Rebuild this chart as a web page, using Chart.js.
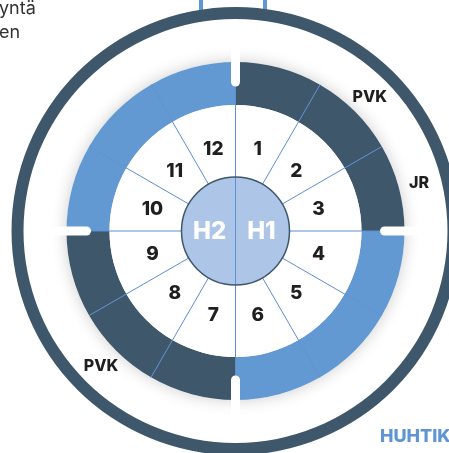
<!DOCTYPE html>
<html>
<head>
<meta charset="utf-8">
<script src="https://cdn.jsdelivr.net/npm/chart.js@4.4.0/dist/chart.umd.min.js"></script>
<style>
  body { margin: 0; width: 449px; height: 453px; overflow: hidden; background: #fff; position: relative; font-family: Inter, "Noto Sans", sans-serif; }
  #bracket { position: absolute; left: 199px; top: -4px; width: 60px; height: 18px; border-left: 4px solid #5f97d3; border-right: 4px solid #5f97d3; }
  #wheel { position: absolute; left: 0; top: 0; }
  #intro { position: absolute; left: -1px; top: -4px; font-size: 18px; line-height: 24px; color: #333; }
  #month { position: absolute; left: 380px; top: 425px; font-size: 18px; font-weight: 800; color: #5f95d3; white-space: nowrap; }
</style>
</head>
<body>
<div id="bracket"></div>
<canvas id="wheel" width="471" height="462"></canvas>
<div id="intro">yntä<br>en</div>
<div id="month">HUHTIK</div>
<script>
// wheel data
const months = ["1", "2", "3", "4", "5", "6", "7", "8", "9", "10", "11", "12"];
const monthValues = [1, 1, 1, 1, 1, 1, 1, 1, 1, 1, 1, 1];
const monthPhase = ["dark", "dark", "dark", "light", "light", "light", "dark", "dark", "dark", "light", "light", "light"];
const phaseTags = ["", "PVK", "JR", "", "", "", "", "PVK", "", "", "", ""];
const halves = ["H1", "H2"];
const halfValues = [1, 1];

const DARK = "#3e576b";
const LIGHT = "#6399d2";
const LINE = "#5b8fd1";
const CORE = "#adc5e6";

// shadow under the coloured ring + lines, ticks and labels on top
const wheelDecor = {
  id: "wheelDecor",
  beforeDatasetDraw(chart, args) {
    if (args.index !== 2) return;
    const a = args.meta.data[0];
    const ctx = chart.ctx;
    ctx.save();
    ctx.shadowColor = "rgba(0,0,0,0.2)";
    ctx.shadowBlur = 16;
    ctx.fillStyle = "#fff";
    ctx.beginPath();
    ctx.arc(a.x, a.y, a.outerRadius, 0, Math.PI * 2);
    ctx.arc(a.x, a.y, a.innerRadius, 0, Math.PI * 2, true);
    ctx.fill();
    ctx.restore();
  },
  afterDatasetsDraw(chart) {
    const ctx = chart.ctx;
    const ring = chart.getDatasetMeta(2).data;
    const cells = chart.getDatasetMeta(3).data;
    const core = chart.getDatasetMeta(4).data;
    const cx = cells[0].x, cy = cells[0].y;
    const rOut = ring[0].outerRadius;
    const rIn = cells[0].innerRadius;
    const rCore = core[0].outerRadius;
    const pt = (ang, r) => [cx + Math.cos(ang) * r, cy + Math.sin(ang) * r];
    const seg = (ang, r1, r2) => {
      const [x1, y1] = pt(ang, r1), [x2, y2] = pt(ang, r2);
      ctx.beginPath(); ctx.moveTo(x1, y1); ctx.lineTo(x2, y2); ctx.stroke();
    };

    ctx.save();
    ctx.strokeStyle = LINE;
    ctx.lineWidth = 1;
    cells.forEach(c => seg(c.startAngle, rIn, rOut));
    core.forEach(c => seg(c.startAngle, 0, rCore));

    ctx.strokeStyle = DARK;
    ctx.lineWidth = 1.5;
    ctx.beginPath(); ctx.arc(cx, cy, rCore, 0, Math.PI * 2); ctx.stroke();

    // quarter markers
    ctx.strokeStyle = "#fff";
    ctx.lineWidth = 9;
    ctx.lineCap = "round";
    ring.forEach((c, i) => { if (i % 3 === 0) seg(c.startAngle, rOut - 20, rOut + 22); });

    ctx.textAlign = "center";
    ctx.textBaseline = "middle";

    ctx.fillStyle = "#1f1f1f";
    ctx.font = "800 19px Inter, sans-serif";
    cells.forEach((c, i) => {
      const mid = (c.startAngle + c.endAngle) / 2;
      const [x, y] = pt(mid, (c.innerRadius + c.outerRadius) / 2 - 4);
      ctx.fillText(months[i], x, y + 1);
    });

    ctx.font = "800 16px Inter, sans-serif";
    ring.forEach((c, i) => {
      if (!phaseTags[i]) return;
      const mid = (c.startAngle + c.endAngle) / 2;
      const [x, y] = pt(mid, rOut + 21);
      ctx.fillText(phaseTags[i], x, y + 1);
    });

    ctx.fillStyle = "#fff";
    ctx.font = "800 24px Inter, sans-serif";
    core.forEach((c, i) => {
      const mid = (c.startAngle + c.endAngle) / 2;
      const [x, y] = pt(mid, rCore * 0.48);
      ctx.fillText(halves[i], x, y + 1);
    });
    ctx.restore();
  }
};

new Chart(document.getElementById("wheel"), {
  type: "doughnut",
  data: {
    labels: months,
    datasets: [
      { data: [1], backgroundColor: [DARK], weight: 12 },
      { data: [1], backgroundColor: ["rgba(0,0,0,0)"], weight: 43 },
      { data: monthValues, backgroundColor: monthPhase.map(p => p === "dark" ? DARK : LIGHT), weight: 43 },
      { data: monthValues, backgroundColor: "#fff", weight: 72, order: -1 },
      { data: halfValues, backgroundColor: CORE, weight: 54 }
    ]
  },
  options: {
    responsive: false,
    devicePixelRatio: 1,
    animation: false,
    events: [],
    cutout: 0,
    layout: { padding: 7 },
    elements: { arc: { borderWidth: 0, hoverOffset: 0 } },
    plugins: {
      legend: { display: false },
      tooltip: { enabled: false }
    }
  },
  plugins: [wheelDecor]
});
</script>
</body>
</html>
